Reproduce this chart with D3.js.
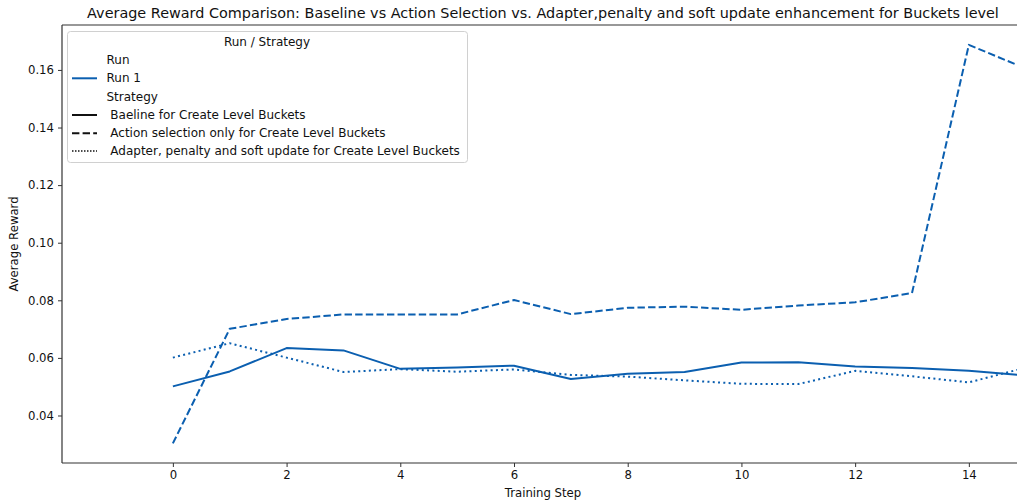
<!DOCTYPE html>
<html>
<head>
<meta charset="utf-8">
<script src="https://cdn.jsdelivr.net/npm/d3@7"></script>
<style>
  html, body { margin: 0; padding: 0; background: #fff; }
  svg { display: block; font-family: "DejaVu Sans", sans-serif; }
</style>
</head>
<body>
<svg id="chart" width="1017" height="502"></svg>
<script>
// Training steps and average reward per strategy (Run 1)
const steps = [0, 1, 2, 3, 4, 5, 6, 7, 8, 9, 10, 11, 12, 13, 14, 15];
const baseline = [0.0501, 0.0553, 0.0634, 0.0626, 0.0562, 0.0567, 0.0573, 0.0527, 0.0545, 0.0551, 0.0584, 0.0585, 0.0570, 0.0565, 0.0555, 0.0539];
const actionSelection = [0.0303, 0.0701, 0.0735, 0.0751, 0.0751, 0.0751, 0.0801, 0.0752, 0.0774, 0.0778, 0.0767, 0.0782, 0.0793, 0.0825, 0.1687, 0.1605];
const adapterPenalty = [0.0601, 0.0651, 0.0601, 0.0551, 0.0561, 0.0552, 0.0560, 0.0541, 0.0535, 0.0522, 0.0510, 0.0509, 0.0555, 0.0536, 0.0515, 0.0566];
const xTicks = [0, 2, 4, 6, 8, 10, 12, 14];
const yTicks = [0.04, 0.06, 0.08, 0.10, 0.12, 0.14, 0.16];

const strategies = [
  { label: " Baeline for Create Level Buckets", values: baseline, dash: null },
  { label: " Action selection only for Create Level Buckets", values: actionSelection, dash: "7.4,3.2" },
  { label: " Adapter, penalty and soft update for Create Level Buckets", values: adapterPenalty, dash: "2,3.3" }
];

const color = "#0b5fb0";
const axisColor = "#333";
const svg = d3.select("#chart");
const W = 1017;

const plot = { left: 62, right: 1024, top: 25, bottom: 463 };
const x = d3.scaleLinear().domain([-1.95, 14.97]).range([plot.left, plot.right]);
const y = d3.scaleLinear().domain([0.0235, 0.1756]).range([plot.bottom, plot.top]);

svg.append("defs").append("clipPath").attr("id", "plotClip")
  .append("rect")
  .attr("x", plot.left).attr("y", plot.top)
  .attr("width", plot.right - plot.left).attr("height", plot.bottom - plot.top);

// Title
svg.append("text")
  .attr("x", 543).attr("y", 18)
  .attr("text-anchor", "middle")
  .attr("font-size", 14.4).attr("fill", "#111")
  .text("Average Reward Comparison: Baseline vs Action Selection vs. Adapter,penalty and soft update enhancement for Buckets level");

// Axes
const xAxis = svg.append("g")
  .attr("transform", `translate(0,${plot.bottom})`)
  .call(d3.axisBottom(x).tickValues(xTicks).tickFormat(d3.format("d")).tickSizeOuter(0).tickSize(4).tickPadding(4));
const yAxis = svg.append("g")
  .attr("transform", `translate(${plot.left},0)`)
  .call(d3.axisLeft(y).tickValues(yTicks).tickFormat(d3.format(".2f")).tickSizeOuter(0).tickSize(4).tickPadding(4));

[xAxis, yAxis].forEach(g => {
  g.select(".domain").remove();
  g.selectAll("line").attr("stroke", axisColor);
  g.selectAll("text").attr("font-size", 11.7).attr("fill", "#111")
    .attr("font-family", "DejaVu Sans, sans-serif");
});

// Spines: left, bottom, top
svg.append("line").attr("x1", plot.left).attr("x2", plot.left)
  .attr("y1", plot.top).attr("y2", plot.bottom)
  .attr("stroke", axisColor).attr("stroke-width", 1.2);
svg.append("line").attr("x1", plot.left).attr("x2", W)
  .attr("y1", plot.bottom).attr("y2", plot.bottom)
  .attr("stroke", axisColor).attr("stroke-width", 1.2);
svg.append("line").attr("x1", plot.left).attr("x2", W)
  .attr("y1", plot.top).attr("y2", plot.top)
  .attr("stroke", axisColor).attr("stroke-width", 1.2);

// Axis labels
svg.append("text")
  .attr("x", 543).attr("y", 497)
  .attr("text-anchor", "middle").attr("font-size", 11.7).attr("fill", "#111")
  .text("Training Step");
svg.append("text")
  .attr("transform", `translate(18,${(plot.top + plot.bottom) / 2}) rotate(-90)`)
  .attr("text-anchor", "middle").attr("font-size", 11.7).attr("fill", "#111")
  .text("Average Reward");

// Series lines
const line = d3.line().x((d, i) => x(steps[i])).y(d => y(d));
const lines = svg.append("g").attr("clip-path", "url(#plotClip)");
strategies.forEach(s => {
  lines.append("path")
    .datum(s.values)
    .attr("d", line)
    .attr("fill", "none")
    .attr("stroke", color)
    .attr("stroke-width", 2)
    .attr("stroke-dasharray", s.dash)
    .attr("stroke-linejoin", "round");
});

// Legend
const lg = svg.append("g");
lg.append("rect")
  .attr("x", 67.5).attr("y", 31.5).attr("width", 400).attr("height", 131)
  .attr("rx", 3).attr("fill", "#fff").attr("fill-opacity", 0.85)
  .attr("stroke", "#d0d0d0").attr("stroke-width", 1);
lg.append("text")
  .attr("x", 267).attr("y", 46).attr("text-anchor", "middle")
  .attr("font-size", 12).attr("fill", "#111").text("Run / Strategy");

const rows = [
  { text: "Run", handle: null },
  { text: "Run 1", handle: { color: color, dash: null } },
  { text: "Strategy", handle: null },
  ...strategies.map(s => ({ text: s.label, handle: { color: "#111", dash: s.dash === "2,3.3" ? "1.5,1.5" : s.dash } }))
];
const rowY = [60, 78.3, 96.7, 115, 133.3, 151];
rows.forEach((r, i) => {
  const yy = rowY[i];
  if (r.handle) {
    lg.append("line")
      .attr("x1", 72).attr("x2", 97).attr("y1", yy).attr("y2", yy)
      .attr("stroke", r.handle.color).attr("stroke-width", r.handle.dash === "1.5,1.5" ? 1.5 : 2)
      .attr("stroke-dasharray", r.handle.dash);
  }
  lg.append("text")
    .attr("x", 106.5).attr("y", yy + 4)
    .attr("font-size", 12).attr("fill", "#111")
    .attr("xml:space", "preserve").style("white-space", "pre")
    .text(r.text);
});
</script>
</body>
</html>
